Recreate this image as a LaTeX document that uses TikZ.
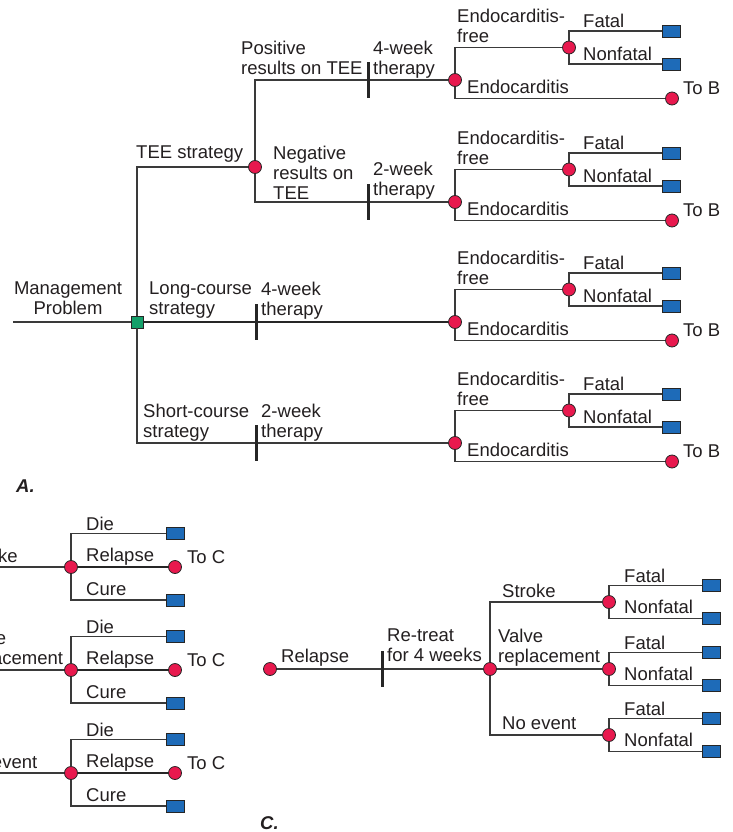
\documentclass[tikz,border=0pt]{standalone}
\usepackage{fontspec}
\setmainfont{Liberation Sans}
\definecolor{linec}{HTML}{3A3A3A}
\definecolor{textc}{HTML}{231F20}
\definecolor{chancered}{HTML}{E8194E}
\definecolor{termblue}{HTML}{1E6BB8}
\definecolor{decgreen}{HTML}{14A06A}
\tikzset{
  ln/.style={draw=linec, line width=1.2pt},
  thickln/.style={draw=black!85, line width=1.9pt},
  chance/.style={circle, fill=chancered, draw=black!85, line width=0.8pt, minimum size=13pt, inner sep=0pt},
  term/.style={rectangle, fill=termblue, draw=black!85, line width=0.8pt, minimum width=18pt, minimum height=12pt, inner sep=0pt},
  decision/.style={rectangle, fill=decgreen, draw=black!85, line width=0.8pt, minimum size=12pt, inner sep=0pt},
  tbar/.style={rectangle, fill=black!85, minimum width=3pt, minimum height=36pt, inner sep=0pt},
  lbl/.style={anchor=north west, inner sep=0pt, align=left, text=textc, font=\fontsize{18.5}{20}\selectfont},
  clbl/.style={anchor=north, inner sep=0pt, align=center, text=textc, font=\fontsize{18.5}{20}\selectfont},
  plbl/.style={anchor=west, inner sep=0pt, text=textc, font=\fontsize{18.5}{20}\selectfont\bfseries\itshape},
}
\newcommand\EndoGroup[2]{%
  \node[chance] (#1ef) at (569,{#2-32.5}) {};
  \node[term] (#1f) at (671,{#2-49}) {};
  \node[term] (#1nf) at (671,{#2-16}) {};
  \node[chance] (#1tb) at (672,{#2+18.5}) {};
  \draw[ln] (#1m) |- (#1ef);
  \draw[ln] (#1ef) |- (#1f);
  \draw[ln] (#1ef) |- (#1nf);
  \draw[ln] (#1m) |- (#1tb);
  \node[lbl] (#1lef) at (457,{#2-71.5}) {Endocarditis-\\free};
  \node[lbl] (#1lf) at (583,{#2-66.5}) {Fatal};
  \node[lbl] (#1lnf) at (583,{#2-33.5}) {Nonfatal};
  \node[lbl] (#1le) at (467,{#2-0.5}) {Endocarditis};
  \node[lbl] (#1ltb) at (683,{#2+1.5}) {To B};
}
\newcommand\RelGroup[2]{%
  \coordinate (#1in) at (-5,{#2});
  \node[chance] (#1c) at (71,{#2}) {};
  \node[term] (#1d) at (175.5,{#2-33.5}) {};
  \node[chance] (#1r) at (175,{#2}) {};
  \node[term] (#1k) at (175.5,{#2+33}) {};
  \draw[ln] (#1in) -- (#1c);
  \draw[ln] (#1c) |- (#1d);
  \draw[thickln] (#1c) -- (#1r);
  \draw[ln] (#1c) |- (#1k);
  \node[lbl] (#1ld) at (86,{#2-50}) {Die};
  \node[lbl] (#1lr) at (86,{#2-19.5}) {Relapse};
  \node[lbl] (#1lk) at (86,{#2+15.5}) {Cure};
  \node[lbl] (#1ltc) at (187,{#2-16.5}) {To C};
}
\newcommand\FatGroup[2]{%
  \node[term] (#1f) at (711,{#2-16.5}) {};
  \node[term] (#1nf) at (711,{#2+16.5}) {};
  \draw[ln] (#1) |- (#1f);
  \draw[ln] (#1) |- (#1nf);
  \node[lbl] (#1lf) at (624,{#2-33.5}) {Fatal};
  \node[lbl] (#1lnf) at (624,{#2-2.5}) {Nonfatal};
}
\begin{document}
\begin{tikzpicture}[x=1pt,y=-1pt]
\useasboundingbox (0,0) rectangle (733,832);
\clip (0,0) rectangle (733,832);
% ---------------- Part A ----------------
\coordinate (mp) at (13,322);
\node[decision] (root) at (137,322) {};
\node[chance] (tee) at (255,167) {};
\node[tbar] (bpos) at (368,80) {};
\node[tbar] (bneg) at (368,202) {};
\node[tbar] (blong) at (256,322) {};
\node[tbar] (bshort) at (256,443) {};
\node[chance] (Am) at (455,80) {};
\node[chance] (Bm) at (455,202) {};
\node[chance] (Cm) at (455,322) {};
\node[chance] (Dm) at (455,443) {};
\draw[ln] (mp) -- (root);
\draw[ln] (root) |- (tee);
\draw[thickln] (root) -- (blong.center) -- (Cm);
\draw[ln] (root) |- (bshort.center) -- (Dm);
\draw[ln] (tee) |- (bpos.center) -- (Am);
\draw[ln] (tee) |- (bneg.center) -- (Bm);
\node[tbar] at (blong) {};
\node[tbar] at (bshort) {};
\node[tbar] at (bpos) {};
\node[tbar] at (bneg) {};
\EndoGroup{A}{80}
\EndoGroup{B}{202}
\EndoGroup{C}{322}
\EndoGroup{D}{443}
\node[clbl] (lmp) at (68,281.5) {Management\\Problem};
\node[lbl] (ltee) at (136,145.5) {TEE strategy};
\node[lbl] (lpos) at (241,40.5) {Positive\\results on TEE};
\node[lbl] (lneg) at (273,145.5) {Negative\\results on\\TEE};
\node[lbl] (l4a) at (373,40.5) {4-week\\therapy};
\node[lbl] (l2a) at (373,161.5) {2-week\\therapy};
\node[lbl] (llong) at (149,281.5) {Long-course\\strategy};
\node[lbl] (l4b) at (261,281.5) {4-week\\therapy};
\node[lbl] (lshort) at (143,403.5) {Short-course\\strategy};
\node[lbl] (l2b) at (261,403.5) {2-week\\therapy};
\node[plbl] (pA) at (16,486) {A.};
% ---------------- Part B ----------------
\RelGroup{S}{567}
\RelGroup{V}{670}
\RelGroup{N}{773}
\node[lbl] (lS) at (-36,548.5) {Stroke};
\node[lbl] (lV) at (-39,630.5) {Valve\\replacement};
\node[lbl] (lN) at (-37,755.5) {No event};
% ---------------- Part C ----------------
\node[chance] (r0) at (270,669) {};
\node[tbar] (bC) at (382,669) {};
\node[chance] (c0) at (490,669) {};
\node[chance] (cS) at (609,602) {};
\node[chance] (cV) at (609,669) {};
\node[chance] (cN) at (609,735) {};
\draw[ln] (r0) -- (bC.center) -- (c0);
\node[tbar] at (bC) {};
\draw[ln] (c0) |- (cS);
\draw[ln] (c0) -- (cV);
\draw[ln] (c0) |- (cN);
\FatGroup{cS}{602}
\FatGroup{cV}{669}
\FatGroup{cN}{735}
\node[lbl] (lrel) at (281,648.5) {Relapse};
\node[lbl] (lret) at (387,628.5) {Re-treat\\for 4 weeks};
\node[lbl] (lst) at (502,583.5) {Stroke};
\node[lbl] (lvr) at (498,628.5) {Valve\\replacement};
\node[lbl] (lne) at (502,716.5) {No event};
\node[plbl] (pC) at (260,823) {C.};
\end{tikzpicture}
\end{document}
